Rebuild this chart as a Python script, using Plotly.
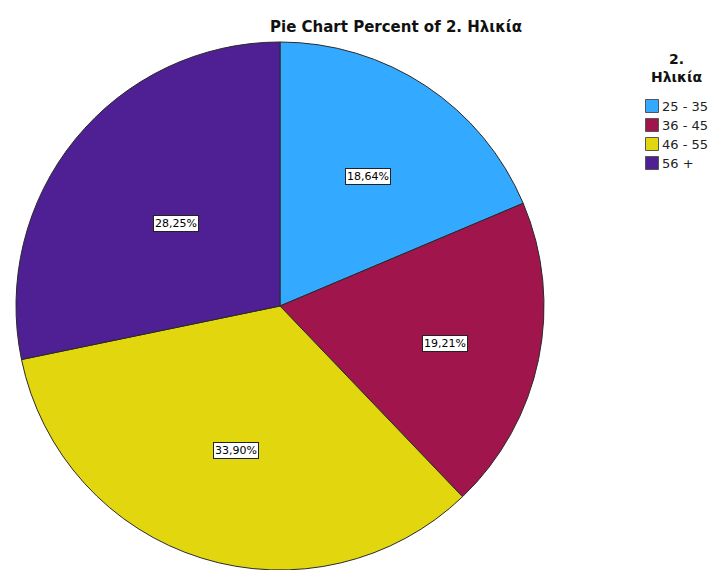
import math
import plotly.graph_objects as go

# Age groups and their share of respondents (%)
age_groups = ["25 - 35", "36 - 45", "46 - 55", "56 +"]
percents = [18.64, 19.21, 33.90, 28.25]
slice_colors = ["#33AAFF", "#A0164C", "#E2D60E", "#4F2093"]
percent_labels = [f"{p:.2f}%".replace(".", ",") for p in percents]

W, H = 710, 570
cx, cy, R = 280, 306, 264           # pie centre and radius in pixels
label_r = [0.60, 0.64, 0.56, 0.51]  # label distance as fraction of radius

fig = go.Figure(
    go.Pie(
        labels=age_groups,
        values=percents,
        sort=False,
        direction="clockwise",
        rotation=0,
        marker=dict(colors=slice_colors, line=dict(color="#2a2a2a", width=1)),
        textinfo="none",
        hoverinfo="label+percent",
        showlegend=False,
        domain=dict(x=[(cx - R) / W, (cx + R) / W],
                    y=[max(0.0, 1 - (cy + R) / H), 1 - (cy - R) / H]),
    )
)

# Boxed percentage labels placed along each slice's mid angle
total = sum(percents)
start = 0.0
annotations = []
for i, p in enumerate(percents):
    mid = (start + p / 2) / total * 2 * math.pi
    start += p
    px = cx + label_r[i] * R * math.sin(mid)
    py = cy + 3 - label_r[i] * R * math.cos(mid)
    annotations.append(dict(
        x=px / W, y=1 - py / H, xref="paper", yref="paper",
        text=percent_labels[i], showarrow=False,
        font=dict(family="DejaVu Sans", size=11, color="black"),
        bgcolor="white", bordercolor="#222", borderwidth=1, borderpad=1,
        xanchor="center", yanchor="middle",
    ))

# Legend: title, colour swatches and category names
annotations.append(dict(
    x=676 / W, y=1 - 68 / H, xref="paper", yref="paper",
    text="<b>2.<br>Ηλικία</b>", showarrow=False, align="center",
    font=dict(family="DejaVu Sans", size=14, color="#111"),
    xanchor="center", yanchor="middle",
))
shapes = []
row0, row_step = 106, 19
for i, (name, col) in enumerate(zip(age_groups, slice_colors)):
    yc = row0 + i * row_step
    shapes.append(dict(
        type="rect", xref="paper", yref="paper",
        x0=645.5 / W, x1=658.5 / W, y0=1 - (yc + 6.5) / H, y1=1 - (yc - 6.5) / H,
        fillcolor=col, line=dict(color="#555", width=1),
    ))
    annotations.append(dict(
        x=660 / W, y=1 - yc / H, xref="paper", yref="paper",
        text=name, showarrow=False,
        font=dict(family="DejaVu Sans", size=13, color="#222"),
        xanchor="left", yanchor="middle",
    ))

fig.update_layout(
    width=W, height=H,
    margin=dict(l=0, r=0, t=0, b=0),
    paper_bgcolor="white", plot_bgcolor="white",
    showlegend=False,
    title=dict(text="<b>Pie Chart Percent of 2. Ηλικία</b>",
               x=396 / W, xanchor="center", y=1 - 27 / H, yanchor="middle",
               font=dict(family="DejaVu Sans", size=15, color="#111")),
    annotations=annotations,
    shapes=shapes,
)

fig.write_html("out.html")
